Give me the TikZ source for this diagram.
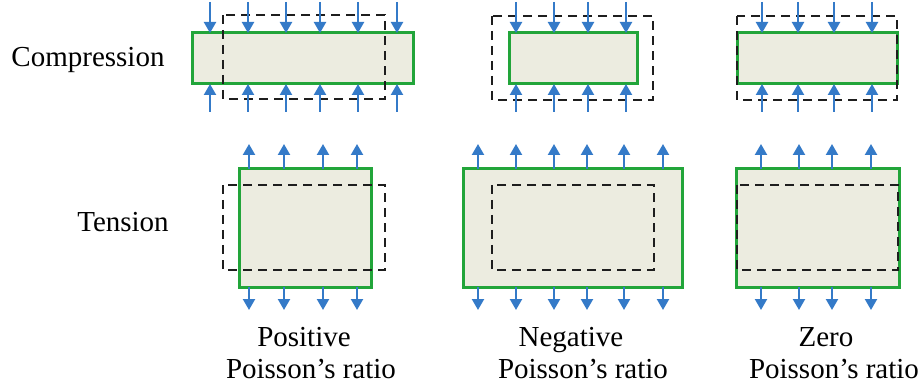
\documentclass[tikz,border=0pt]{standalone}
\usepackage{fontspec}
\setmainfont{Liberation Serif}
\usetikzlibrary{arrows.meta}
\definecolor{gbord}{RGB}{34,165,58}
\definecolor{gfill}{RGB}{236,236,224}
\definecolor{arr}{RGB}{52,122,200}
\definecolor{dsh}{RGB}{30,30,30}
\tikzset{
  solid box/.style={draw=gbord, fill=gfill, line width=3pt},
  ghost/.style={draw=dsh, line width=2.2pt, dash pattern=on 9pt off 6pt},
  force/.style={draw=arr, line width=2.2pt, -{Triangle[width=12pt,length=11pt]}},
  lbl/.style={font=\fontsize{29}{31}\selectfont, inner sep=0pt, anchor=base},
}
\begin{document}
\begin{tikzpicture}[x=1pt,y=-1pt]
\useasboundingbox (0,0) rectangle (922,385);
% Compression row
\draw[solid box] (192,33) rectangle (413,84);
\draw[ghost] (223,15) rectangle (385,99);
\foreach \xx in {210,248,286,320,358,397}{
  \draw[force] (\xx,2) -- (\xx,33);
  \draw[force] (\xx,112) -- (\xx,84);
}
\draw[solid box] (509,33) rectangle (637,84);
\draw[ghost] (492,16) rectangle (653,100);
\foreach \xx in {516,554,588,626}{
  \draw[force] (\xx,2) -- (\xx,33);
  \draw[force] (\xx,112) -- (\xx,84);
}
\draw[solid box] (737,33) rectangle (897,84);
\draw[ghost] (737,16) rectangle (897,100);
\foreach \xx in {762,798,834,872}{
  \draw[force] (\xx,2) -- (\xx,33);
  \draw[force] (\xx,112) -- (\xx,84);
}
% Tension row
\draw[solid box] (239,169) rectangle (371,287);
\draw[ghost] (223,185) rectangle (385,270);
\foreach \xx in {249,284,323,357}{
  \draw[force] (\xx,169) -- (\xx,144);
  \draw[force] (\xx,287) -- (\xx,310);
}
\draw[solid box] (463,169) rectangle (682,287);
\draw[ghost] (492,185) rectangle (654,270);
\foreach \xx in {478,516,554,587,624,663}{
  \draw[force] (\xx,169) -- (\xx,144);
  \draw[force] (\xx,287) -- (\xx,310);
}
\draw[solid box] (736,169) rectangle (899,287);
\draw[ghost] (737,185) rectangle (898,270);
\foreach \xx in {761,799,832,871}{
  \draw[force] (\xx,169) -- (\xx,144);
  \draw[force] (\xx,287) -- (\xx,310);
}
% Labels
\node[lbl] (comp) at (88,66.5) {Compression};
\node[lbl] (tens) at (123,231.5) {Tension};
\node[lbl] (pos1) at (304,346.5) {Positive};
\node[lbl] (pos2) at (311,378) {Poisson’s ratio};
\node[lbl] (neg1) at (571,346.5) {Negative};
\node[lbl] (neg2) at (583,378) {Poisson’s ratio};
\node[lbl] (zer1) at (826,346.5) {Zero};
\node[lbl] (zer2) at (834,378) {Poisson’s ratio};
\end{tikzpicture}
\end{document}
